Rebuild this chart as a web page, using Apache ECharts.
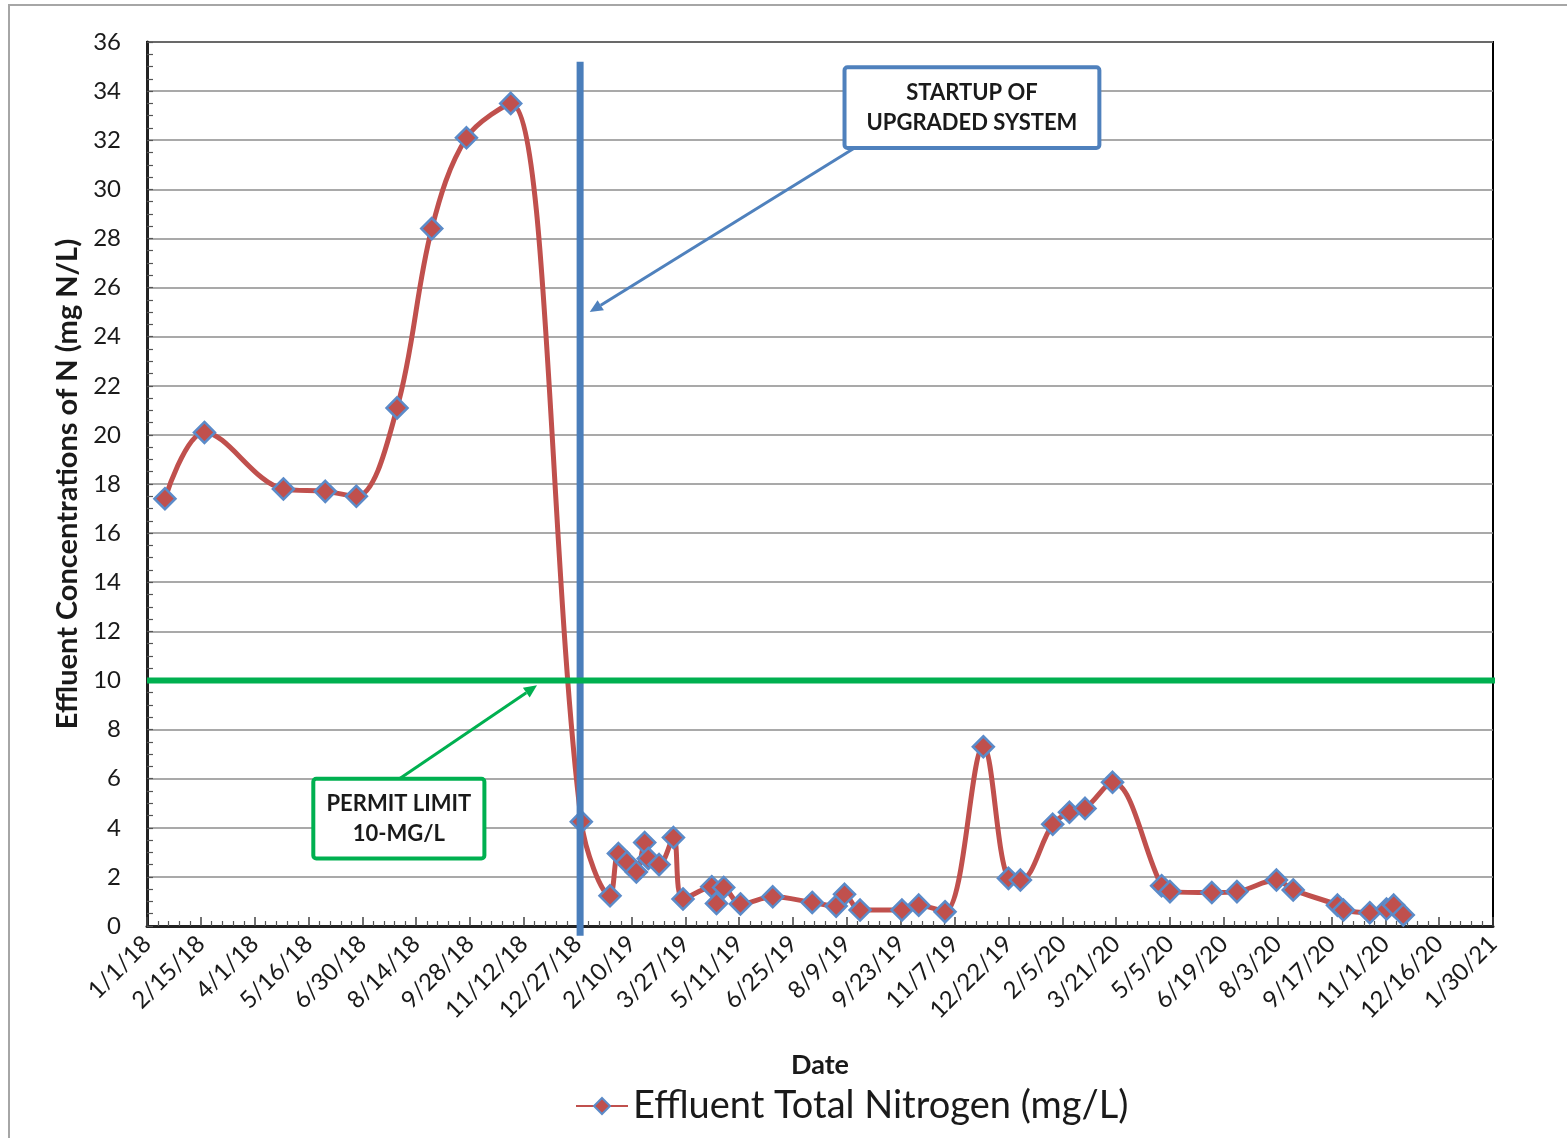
<!DOCTYPE html>
<html>
<head>
<meta charset="utf-8">
<script src="https://cdn.jsdelivr.net/npm/echarts@6/dist/echarts.min.js"></script>
<style>
html,body{margin:0;padding:0;background:#fff;}
#c{width:1567px;height:1138px;}
</style>
</head>
<body>
<div id="c"></div>
<script>
// ---- data ----
const sampleDates = ['2018-01-16','2018-02-18','2018-04-25','2018-05-30','2018-06-25','2018-07-29','2018-08-27','2018-09-25','2018-11-01','2018-12-30',
  '2019-01-23','2019-01-30','2019-02-06','2019-02-14','2019-02-21','2019-02-24','2019-03-05','2019-03-17','2019-03-25',
  '2019-04-18','2019-04-22','2019-04-28','2019-05-12','2019-06-08','2019-07-11','2019-07-31','2019-08-07','2019-08-20',
  '2019-09-24','2019-10-08','2019-10-30','2019-12-01','2019-12-22','2020-01-01','2020-01-28','2020-02-11','2020-02-24','2020-03-18',
  '2020-04-28','2020-05-05','2020-06-09','2020-06-30','2020-08-02','2020-08-16','2020-09-22','2020-09-27','2020-10-19','2020-11-02','2020-11-08','2020-11-16'];
const nitrogen = [17.4,20.1,17.8,17.7,17.5,21.1,28.4,32.1,33.5,4.25,
  1.23,2.95,2.6,2.2,3.4,2.75,2.5,3.6,1.1,
  1.6,0.92,1.57,0.9,1.19,0.96,0.81,1.29,0.65,
  0.65,0.85,0.58,7.3,1.94,1.87,4.14,4.63,4.79,5.85,
  1.64,1.4,1.36,1.4,1.87,1.47,0.85,0.65,0.54,0.69,0.85,0.45];
const axisStart = '2018-01-01';
const axisEnd = '2021-01-30';
const tickStepDays = 45;
const yTicks = {min:0, max:36, step:2};
const permitLimit = 10;
const startupDate = '2018-12-29';
const seriesName = 'Effluent Total Nitrogen (mg/L)';

// ---- helpers ----
const DAY = 86400000;
const t0 = Date.parse(axisStart + 'T00:00:00Z');
const dayOf = s => Math.round((Date.parse(s + 'T00:00:00Z') - t0) / DAY);
const fmtDay = d => { const dt = new Date(t0 + d * DAY); return (dt.getUTCMonth()+1) + '/' + dt.getUTCDate() + '/' + String(dt.getUTCFullYear()).slice(2); };
const FONT = 'Lato, "Open Sans", sans-serif';
const TXT = '#1a1a1a';

const chart = echarts.init(document.getElementById('c'), null, {renderer:'canvas'});
const option = {
  animation:false,
  backgroundColor:'#fff',
  grid:{left:147, right:74, top:42, bottom:212, show:true, borderColor:'#000', borderWidth:2, backgroundColor:'transparent'},
  xAxis:{
    type:'value', min:0, max:dayOf(axisEnd), interval:tickStepDays,
    name:'Date', nameLocation:'middle', nameGap:126,
    nameTextStyle:{fontFamily:FONT, fontWeight:'bold', fontSize:27, color:TXT},
    axisLine:{lineStyle:{color:'#222', width:3}},
    axisTick:{inside:true, length:9, lineStyle:{color:'#444', width:1.5}},
    minorTick:{show:true, splitNumber:5, length:5, lineStyle:{color:'#555', width:1.2}},
    splitLine:{show:false},
    axisLabel:{rotate:45, margin:14, fontFamily:FONT, fontSize:24, color:TXT, formatter:v => fmtDay(v)}
  },
  yAxis:{
    type:'value', min:yTicks.min, max:yTicks.max, interval:yTicks.step,
    name:'Effluent Concentrations of N (mg N/L)', nameLocation:'middle', nameGap:64,
    nameTextStyle:{fontFamily:FONT, fontWeight:'bold', fontSize:29, color:TXT},
    axisLine:{show:true, lineStyle:{color:'#222', width:3}},
    axisTick:{show:true, inside:true, length:6, lineStyle:{color:'#555', width:1.2}},
    minorTick:{show:true, splitNumber:4, length:6, lineStyle:{color:'#555', width:1.2}},
    splitLine:{lineStyle:{color:'#8c8c8c', width:1.5}},
    axisLabel:{margin:26, fontFamily:FONT, fontSize:24, color:TXT}
  },
  legend:{
    left:570, top:1082, itemWidth:52, itemHeight:20, itemGap:4,
    textStyle:{fontFamily:FONT, fontSize:38, color:TXT},
    data:[seriesName]
  },
  series:[{
    name:seriesName, type:'line', smooth:0.35,
    data:sampleDates.map((d,i)=>[dayOf(d), nitrogen[i]]),
    symbol:'diamond', symbolSize:21,
    lineStyle:{color:'#C0504D', width:5},
    itemStyle:{color:'#C0504D', borderColor:'#5B8BC9', borderWidth:2.5},
    clip:false, z:3
  }]
};
chart.setOption(option);

// ---- annotations anchored to data coords ----
const P = (x,y) => chart.convertToPixel({gridIndex:0}, [x,y]);
const sx = dayOf(startupDate);
const vTop = P(sx, 35.2), vBot = P(sx, -0.4);
const gL = P(0, permitLimit), gR = P(dayOf(axisEnd), permitLimit);
function arrow(from, to, color){
  const ang = Math.atan2(to[1]-from[1], to[0]-from[0]);
  const L = 13, W = 6;
  const bx = to[0] - L*Math.cos(ang), by = to[1] - L*Math.sin(ang);
  const nx = -Math.sin(ang), ny = Math.cos(ang);
  return [
    {type:'line', z:50, shape:{x1:from[0], y1:from[1], x2:bx, y2:by}, style:{stroke:color, lineWidth:3}},
    {type:'polygon', z:50, shape:{points:[[to[0],to[1]],[bx+nx*W, by+ny*W],[bx-nx*W, by-ny*W]]}, style:{fill:color}}
  ];
}
const blueBox = {x1:P(583,0)[0], y1:P(0,34.97)[1], x2:P(796,0)[0], y2:P(0,31.68)[1]};
const greenBox = {x1:P(139,0)[0], y1:P(0,6.0)[1], x2:P(282,0)[0], y2:P(0,2.75)[1]};
const graphics = [
  {type:'rect', z:0, shape:{x:9, y:5, width:1600, height:1200}, style:{fill:null, stroke:'#a6a6a6', lineWidth:2}},
  {type:'line', z:40, shape:{x1:vTop[0], y1:vTop[1], x2:vBot[0], y2:vBot[1]}, style:{stroke:'#4A7EBB', lineWidth:7}},
  {type:'line', z:40, shape:{x1:gL[0], y1:gL[1], x2:gR[0]+2, y2:gR[1]}, style:{stroke:'#00B050', lineWidth:6}},
  ...arrow([blueBox.x1+10, blueBox.y2], P(sx+8, 25.0), '#4F81BD'),
  ...arrow([P(211,0)[0], greenBox.y1], P(326, 9.8), '#00B050'),
  {type:'rect', z:60, shape:{x:blueBox.x1, y:blueBox.y1, width:blueBox.x2-blueBox.x1, height:blueBox.y2-blueBox.y1, r:3}, style:{fill:'#fff', stroke:'#4F81BD', lineWidth:4}},
  {type:'text', z:61, x:(blueBox.x1+blueBox.x2)/2, y:(blueBox.y1+blueBox.y2)/2, style:{text:'STARTUP OF\nUPGRADED SYSTEM', align:'center', verticalAlign:'middle', lineHeight:30, fontFamily:FONT, fontWeight:'bold', fontSize:22, fill:TXT}},
  {type:'rect', z:60, shape:{x:greenBox.x1, y:greenBox.y1, width:greenBox.x2-greenBox.x1, height:greenBox.y2-greenBox.y1, r:3}, style:{fill:'#fff', stroke:'#00B050', lineWidth:4}},
  {type:'text', z:61, x:(greenBox.x1+greenBox.x2)/2, y:(greenBox.y1+greenBox.y2)/2, style:{text:'PERMIT LIMIT\n10-MG/L', align:'center', verticalAlign:'middle', lineHeight:30, fontFamily:FONT, fontWeight:'bold', fontSize:22, fill:TXT}}
];
chart.setOption({graphic:graphics});
</script>
</body>
</html>
